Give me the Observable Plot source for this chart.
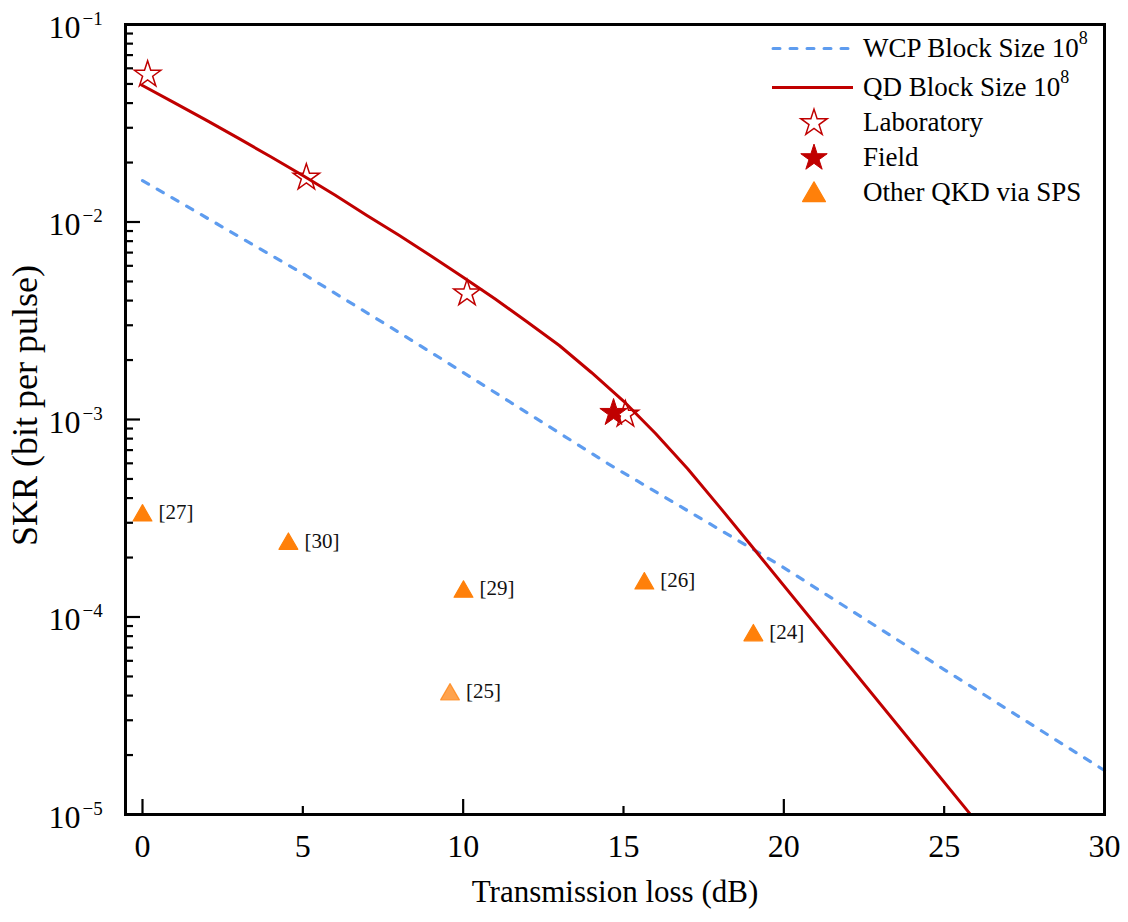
<!DOCTYPE html>
<html>
<head>
<meta charset="utf-8">
<script src="https://cdn.jsdelivr.net/npm/d3@7"></script>
<script src="https://cdn.jsdelivr.net/npm/@observablehq/plot@0.6"></script>
<style>
  body { margin: 0; background: #fff; }
  #wrap { position: relative; width: 1128px; height: 922px; font-family: "Liberation Serif", "Times New Roman", serif; }
  #wrap svg text { font-family: "Liberation Serif", "Times New Roman", serif !important; }
  #legend { position: absolute; left: 770px; top: 31px; font-size: 27px; color: #000; }
  .row { display: flex; align-items: center; height: 35px; }
  .row svg { flex: none; margin-right: 3px; }
  .row sup { font-size: 18px; position: relative; top: -4px; vertical-align: top; line-height: 1; }
</style>
</head>
<body>
<div id="wrap"><div id="legend"></div></div>
<script>
// ---- data ----
const wcpLoss = [0, 5, 7.3, 9.3, 14.5, 19.9, 25, 30];
const wcpSKR  = [0.0162, 0.00548, 0.00324, 0.00204, 0.0006, 0.000182, 5.42e-5, 1.67e-5];

const qdLoss = [0, 1, 2, 3, 4, 5, 6, 7, 8, 9, 10, 11, 12, 13, 14, 15, 16, 17, 18, 19, 25.8];
const qdSKR  = [0.0491, 0.0401, 0.0327, 0.0265, 0.0214, 0.0172, 0.0137, 0.0108, 0.00856, 0.00673, 0.00525,
                0.00407, 0.00312, 0.00237, 0.00173, 0.00124, 0.00085, 0.000563, 0.00036, 0.000228, 1.01e-5];

const labLoss = [0.16, 5.11, 10.12, 15.06];
const labSKR  = [0.0558, 0.0168, 0.00435, 0.00106];

const fieldLoss = [14.69];
const fieldSKR  = [0.00108];

const spsRef  = ["[27]", "[30]", "[29]", "[26]", "[24]", "[25]"];
const spsLoss = [0.0, 4.55, 10.01, 15.65, 19.05, 9.59];
const spsSKR  = [3.38e-4, 2.43e-4, 1.39e-4, 1.53e-4, 8.36e-5, 4.20e-5];

const xTickLabels = [0, 5, 10, 15, 20, 25, 30];
const xMajorTicks = [0, 10, 20, 30];
const xMinorTicks = [5, 15, 25];
const yTickValues = [1e-1, 1e-2, 1e-3, 1e-4, 1e-5];
const yTickExp    = ["\u22121", "\u22122", "\u22123", "\u22124", "\u22125"];
const yMinorTicks = [1e-5, 1e-4, 1e-3, 1e-2].flatMap(d => [2,3,4,5,6,7,8,9].map(k => +(d * k).toPrecision(3)));

const legendItems = ["WCP Block Size 10", "QD Block Size 10", "Laboratory", "Field", "Other QKD via SPS"];
const xTitle = "Transmission loss (dB)";
const yTitle = "SKR (bit per pulse)";

// ---- tables ----
const wcp = wcpLoss.map((x, i) => ({x, y: wcpSKR[i]}));
const qd = qdLoss.map((x, i) => ({x, y: qdSKR[i]}));
const lab = labLoss.map((x, i) => ({x, y: labSKR[i]}));
const field = fieldLoss.map((x, i) => ({x, y: fieldSKR[i]}));
const sps = spsLoss.map((x, i) => ({x, y: spsSKR[i], ref: spsRef[i]}));

const RED = "#c00000", BLUE = "#5e9cef", ORANGE = "#ff800a";
const FONT = '"Liberation Serif", "Times New Roman", serif';
const W = 1128, H = 922, ML = 125, MR = 24, MT = 24, MB = 108;
const PW = W - ML - MR, PH = H - MT - MB;

const chart = Plot.plot({
  width: W, height: H,
  marginLeft: ML, marginRight: MR, marginTop: MT, marginBottom: MB,
  style: {fontFamily: FONT, fontSize: "32px", background: "white", color: "black", overflow: "visible"},
  x: {domain: [-0.53, 30]},
  y: {type: "log", domain: [1e-5, 1e-1]},
  marks: [
    Plot.line(wcp, {x: "x", y: "y", stroke: BLUE, strokeWidth: 3.2, strokeDasharray: "7,10", strokeLinecap: "round"}),
    Plot.line(qd, {x: "x", y: "y", stroke: RED, strokeWidth: 3, strokeLinejoin: "round"}),
    Plot.dot(lab, {x: "x", y: "y", symbol: "star", r: 8.3, stroke: RED, strokeWidth: 1.5, fill: "none"}),
    Plot.dot(field, {x: "x", y: "y", symbol: "star", r: 8.6, stroke: RED, strokeWidth: 1, fill: RED}),
    Plot.dot(sps, {x: "x", y: "y", symbol: "triangle", r: 7, dy: 3, fill: ORANGE, stroke: ORANGE, strokeWidth: 1.2, strokeLinejoin: "round",
      fillOpacity: d => d.ref === "[25]" ? 0.72 : 1, strokeOpacity: d => d.ref === "[25]" ? 0.72 : 1}),
    Plot.text(sps, {x: "x", y: "y", text: "ref", dx: 16, textAnchor: "start", fontSize: 21, fontFamily: FONT, fill: "#111"}),
    // inward ticks
    Plot.tickX(xMajorTicks, {x: d => d, insetTop: PH - 15, stroke: "black", strokeWidth: 2.2}),
    Plot.tickX(xMinorTicks, {x: d => d, insetTop: PH - 8, stroke: "black", strokeWidth: 2.2}),
    Plot.tickY(yTickValues, {y: d => d, insetRight: PW - 15, stroke: "black", strokeWidth: 2.2}),
    Plot.tickY(yMinorTicks, {y: d => d, insetRight: PW - 8, stroke: "black", strokeWidth: 2.2}),
    // axes labels
    Plot.axisX({ticks: xTickLabels, tickSize: 0, tickPadding: 20, tickFormat: d => String(d), label: null, fontSize: 32, fontFamily: FONT}),
    Plot.axisY({ticks: yTickValues, tickSize: 0, tickPadding: 45, tickFormat: () => "10", label: null, fontSize: 32, fontFamily: FONT, dy: 3}),
    Plot.text(yTickValues, {y: d => d, text: (d, i) => yTickExp[i], frameAnchor: "left", textAnchor: "start", dx: -43, dy: -6, fontSize: 19, fontFamily: FONT}),
    Plot.frame({stroke: "black", strokeWidth: 3}),
    Plot.text([xTitle], {text: d => d, frameAnchor: "bottom", textAnchor: "middle", lineAnchor: "middle", dy: 78, fontSize: 31, fontFamily: FONT}),
    Plot.text([yTitle], {text: d => d, frameAnchor: "left", textAnchor: "middle", lineAnchor: "middle", rotate: -90, dx: -100, dy: -14, fontSize: 36, fontFamily: FONT})
  ]
});
document.getElementById("wrap").prepend(chart);

// ---- legend (HTML overlay) ----
const legend = d3.select("#legend");
const symStar = d3.symbol(d3.symbolStar, Math.PI * 8.3 * 8.3)();
const symTri = d3.symbol(d3.symbolTriangle, Math.PI * 8.5 * 8.5)();
legendItems.forEach((label, i) => {
  const row = legend.append("div").attr("class", "row").style("margin-bottom", i === 0 ? "4px" : "0px");
  const svg = row.append("svg").attr("width", 90).attr("height", 35);
  if (i === 0) svg.append("line").attr("x1", 3).attr("x2", 83).attr("y1", 17.5).attr("y2", 17.5)
    .attr("stroke", BLUE).attr("stroke-width", 3).attr("stroke-dasharray", "7,10").attr("stroke-linecap", "round");
  if (i === 1) svg.append("line").attr("x1", 2).attr("x2", 83).attr("y1", 17.5).attr("y2", 17.5)
    .attr("stroke", RED).attr("stroke-width", 3);
  if (i === 2) svg.append("path").attr("d", symStar).attr("transform", "translate(44,18)")
    .attr("fill", "none").attr("stroke", RED).attr("stroke-width", 1.5);
  if (i === 3) svg.append("path").attr("d", symStar).attr("transform", "translate(44,18)")
    .attr("fill", RED).attr("stroke", RED).attr("stroke-width", 1);
  if (i === 4) svg.append("path").attr("d", symTri).attr("transform", "translate(44,20)")
    .attr("fill", ORANGE).attr("stroke", ORANGE).attr("stroke-width", 1.2).attr("stroke-linejoin", "round");
  const span = row.append("span").text(label);
  if (i < 2) span.append("sup").text("8");
});
</script>
</body>
</html>
